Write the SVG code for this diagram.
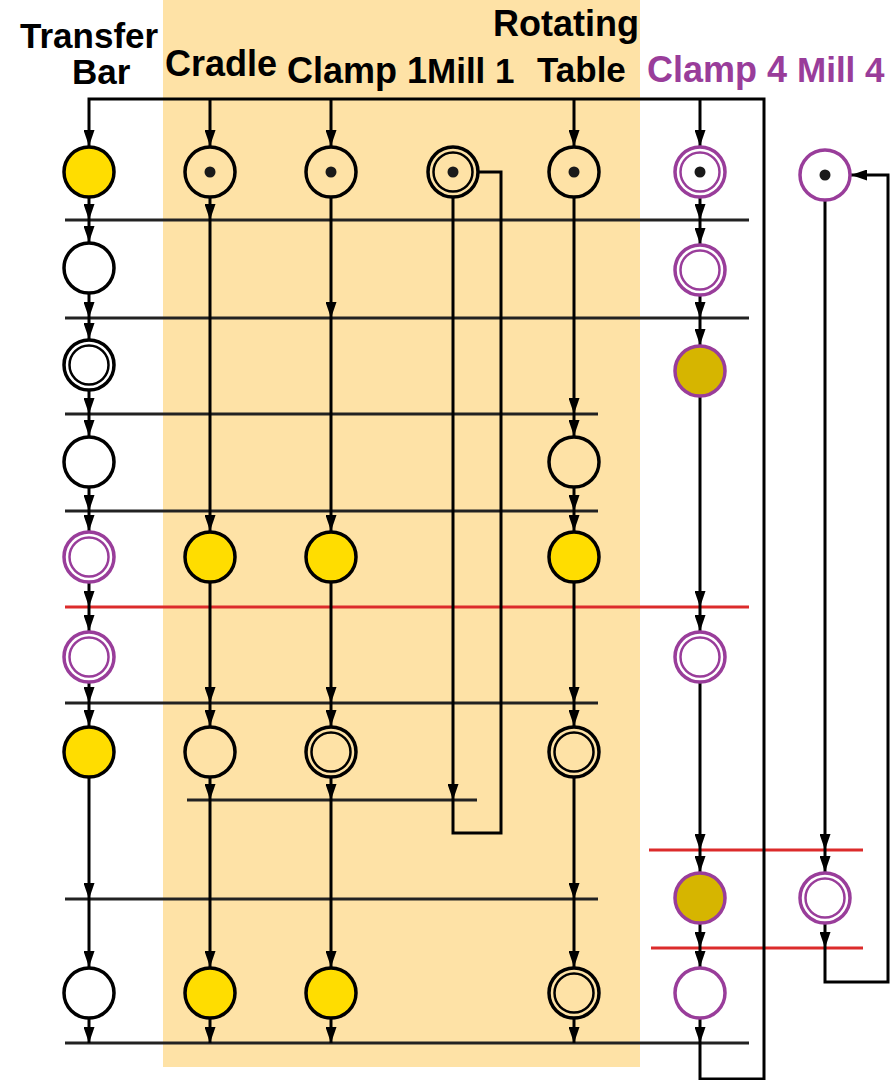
<svg xmlns="http://www.w3.org/2000/svg" width="890" height="1080" viewBox="0 0 890 1080">
<style>
.lbl{font-family:"Liberation Sans",Arial,sans-serif;font-weight:bold;font-size:35px;fill:#000}
.big{font-size:36px}
.pl{fill:#993d9a}
.c{fill:none;stroke:#000;stroke-width:3.5}
.cp{fill:none;stroke:#993d9a;stroke-width:3.5}
.yel{fill:#ffdd00}
.dy{fill:#d6b500}
.in{fill:none;stroke:#000;stroke-width:2.5}
.inp{fill:none;stroke:#993d9a;stroke-width:2.5}
.dot{fill:#1a1a1a}
.bar{stroke:#222;stroke-width:3;fill:none}
.red{stroke:#dc2b2b;stroke-width:3;fill:none}
.ln{stroke:#000;stroke-width:3;fill:none}
.ar{stroke:#000;stroke-width:3;fill:none;marker-end:url(#ah)}
</style>
<defs>
<marker id="ah" viewBox="0 0 16 11" refX="16" refY="5.5" markerWidth="16" markerHeight="11" markerUnits="userSpaceOnUse" orient="auto">
<path d="M0,0 L16,5.5 L0,11 z" fill="#000"/>
</marker>
</defs>
<rect x="163" y="0" width="477" height="1067" fill="#fee2a6"/>
<g id="labels">
<text class="lbl" x="20" y="48">Transfer</text>
<text class="lbl" x="72" y="84">Bar</text>
<text class="lbl big" x="165" y="76">Cradle</text>
<text class="lbl big" x="287" y="83">Clamp 1</text>
<text class="lbl" x="427" y="83">Mill 1</text>
<text class="lbl big" x="493" y="36">Rotating</text>
<text class="lbl" x="537" y="82">Table</text>
<text class="lbl big pl" x="647" y="82">Clamp 4</text>
<text class="lbl pl" x="797" y="82">Mill 4</text>
</g>
<g id="bars">
<line class="bar" x1="65" y1="220" x2="749" y2="220"/>
<line class="bar" x1="65" y1="318" x2="749" y2="318"/>
<line class="bar" x1="65" y1="414" x2="598" y2="414"/>
<line class="bar" x1="65" y1="511" x2="598" y2="511"/>
<line class="red" x1="65" y1="607" x2="749" y2="607"/>
<line class="bar" x1="65" y1="703" x2="598" y2="703"/>
<line class="bar" x1="187" y1="800" x2="477" y2="800"/>
<line class="red" x1="649" y1="850" x2="863" y2="850"/>
<line class="bar" x1="65" y1="899" x2="598" y2="899"/>
<line class="red" x1="651" y1="948" x2="863" y2="948"/>
<line class="bar" x1="65" y1="1043" x2="749" y2="1043"/>
</g>
<g id="connectors">
<path class="ar" d="M700,1043 V1079 H764 V99 H89 V146"/>
<path class="ar" d="M210,99 V146"/>
<path class="ar" d="M331,99 V146"/>
<path class="ar" d="M574,99 V146"/>
<path class="ar" d="M700,99 V146"/>
<path class="ar" d="M89,198 V220"/><path class="ar" d="M89,220 V242"/>
<path class="ar" d="M89,294 V318"/><path class="ar" d="M89,318 V339"/>
<path class="ar" d="M89,391 V414"/><path class="ar" d="M89,414 V436"/>
<path class="ar" d="M89,488 V511"/><path class="ar" d="M89,511 V531"/>
<path class="ar" d="M89,583 V607"/><path class="ar" d="M89,607 V631"/>
<path class="ar" d="M89,683 V703"/><path class="ar" d="M89,703 V726"/>
<path class="ar" d="M89,778 V899"/><path class="ar" d="M89,899 V967"/>
<path class="ar" d="M89,1019 V1043"/>
<path class="ar" d="M210,198 V220"/><path class="ar" d="M210,220 V531"/>
<path class="ar" d="M210,583 V703"/><path class="ar" d="M210,703 V726"/>
<path class="ar" d="M210,778 V800"/><path class="ar" d="M210,800 V967"/>
<path class="ar" d="M210,1019 V1043"/>
<path class="ar" d="M331,198 V318"/><path class="ar" d="M331,318 V531"/>
<path class="ar" d="M331,583 V703"/><path class="ar" d="M331,703 V726"/>
<path class="ar" d="M331,778 V800"/><path class="ar" d="M331,800 V967"/>
<path class="ar" d="M331,1019 V1043"/>
<path class="ar" d="M453,198 V800"/>
<path class="ln" d="M453,800 V833 H501 V172 H479"/>
<path class="ar" d="M574,198 V414"/><path class="ar" d="M574,414 V436"/>
<path class="ar" d="M574,488 V511"/><path class="ar" d="M574,511 V531"/>
<path class="ar" d="M574,583 V703"/><path class="ar" d="M574,703 V726"/>
<path class="ar" d="M574,778 V899"/><path class="ar" d="M574,899 V967"/>
<path class="ar" d="M574,1019 V1043"/>
<path class="ar" d="M700,198 V220"/><path class="ar" d="M700,220 V244"/>
<path class="ar" d="M700,296 V318"/><path class="ar" d="M700,318 V345"/>
<path class="ar" d="M700,397 V607"/><path class="ar" d="M700,607 V631"/>
<path class="ar" d="M700,683 V850"/><path class="ar" d="M700,850 V872"/>
<path class="ar" d="M700,924 V948"/><path class="ar" d="M700,948 V967"/>
<path class="ar" d="M700,1019 V1043"/>
<path class="ar" d="M825,201 V850"/><path class="ar" d="M825,850 V872"/>
<path class="ar" d="M825,924 V948"/>
<path class="ar" d="M825,948 V982 H888 V175 H851"/>
</g>
<g id="tb-1"><circle class="c yel" cx="89" cy="172" r="25"/></g>
<g id="tb-2"><circle class="c" cx="89" cy="268" r="25" style="fill:#fff"/></g>
<g id="tb-3"><circle class="c" cx="89" cy="365" r="25"/><circle class="in" cx="89" cy="365" r="19.5"/></g>
<g id="tb-4"><circle class="c" cx="89" cy="462" r="25"/></g>
<g id="tb-5"><circle class="cp" cx="89" cy="557" r="25"/><circle class="inp" cx="89" cy="557" r="19.5"/></g>
<g id="tb-6"><circle class="cp" cx="89" cy="657" r="25"/><circle class="inp" cx="89" cy="657" r="19.5"/></g>
<g id="tb-7"><circle class="c yel" cx="89" cy="752" r="25"/></g>
<g id="tb-9"><circle class="c" cx="89" cy="993" r="25"/></g>
<g id="cr-1"><circle class="c" cx="210" cy="172" r="25"/><circle class="dot" cx="210" cy="172" r="5.5"/></g>
<g id="cr-5"><circle class="c yel" cx="210" cy="557" r="25"/></g>
<g id="cr-7"><circle class="c" cx="210" cy="752" r="25"/></g>
<g id="cr-9"><circle class="c yel" cx="210" cy="993" r="25"/></g>
<g id="c1-1"><circle class="c" cx="331" cy="172" r="25"/><circle class="dot" cx="331" cy="172" r="5.5"/></g>
<g id="c1-5"><circle class="c yel" cx="331" cy="557" r="25"/></g>
<g id="c1-7"><circle class="c" cx="331" cy="752" r="25"/><circle class="in" cx="331" cy="752" r="19.5"/></g>
<g id="c1-9"><circle class="c yel" cx="331" cy="993" r="25"/></g>
<g id="m1-1"><circle class="c" cx="453" cy="172" r="25"/><circle class="in" cx="453" cy="172" r="19.5"/><circle class="dot" cx="453" cy="172" r="5.5"/></g>
<g id="rt-1"><circle class="c" cx="574" cy="172" r="25"/><circle class="dot" cx="574" cy="172" r="5.5"/></g>
<g id="rt-4"><circle class="c" cx="574" cy="462" r="25"/></g>
<g id="rt-5"><circle class="c yel" cx="574" cy="557" r="25"/></g>
<g id="rt-7"><circle class="c" cx="574" cy="752" r="25"/><circle class="in" cx="574" cy="752" r="19.5"/></g>
<g id="rt-9"><circle class="c" cx="574" cy="993" r="25"/><circle class="in" cx="574" cy="993" r="19.5"/></g>
<g id="c4-1"><circle class="cp" cx="700" cy="172" r="25"/><circle class="inp" cx="700" cy="172" r="19.5"/><circle class="dot" cx="700" cy="172" r="5.5"/></g>
<g id="c4-2"><circle class="cp" cx="700" cy="270" r="25"/><circle class="inp" cx="700" cy="270" r="19.5"/></g>
<g id="c4-3"><circle class="cp dy" cx="700" cy="371" r="25"/></g>
<g id="c4-6"><circle class="cp" cx="700" cy="657" r="25"/><circle class="inp" cx="700" cy="657" r="19.5"/></g>
<g id="c4-8"><circle class="cp dy" cx="700" cy="898" r="25"/></g>
<g id="c4-9"><circle class="cp" cx="700" cy="993" r="25"/></g>
<g id="m4-1"><circle class="cp" cx="825" cy="175" r="25"/><circle class="dot" cx="825" cy="175" r="5.5"/></g>
<g id="m4-8"><circle class="cp" cx="825" cy="898" r="25"/><circle class="inp" cx="825" cy="898" r="19.5"/></g>
</svg>
